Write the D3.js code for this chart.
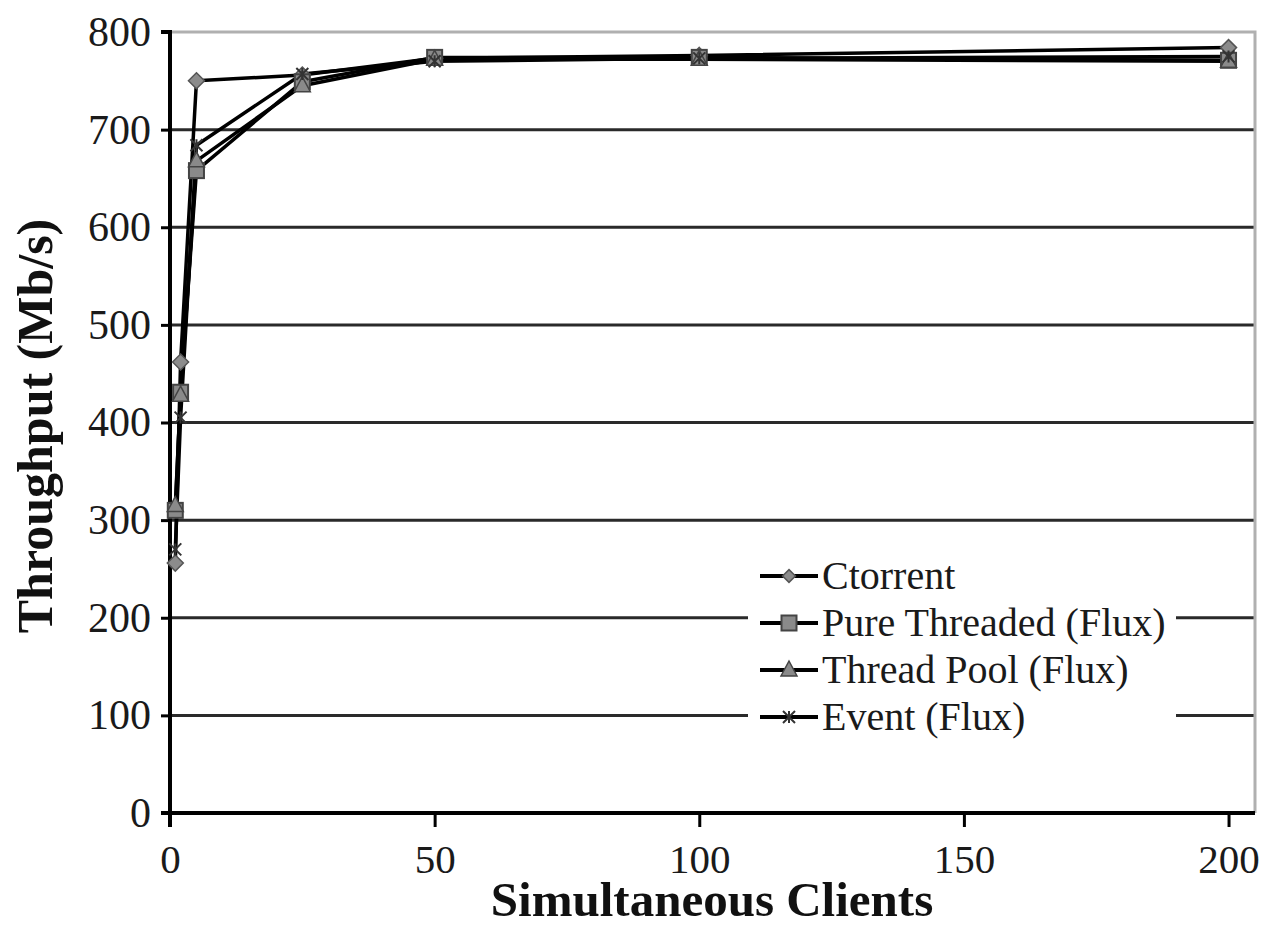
<!DOCTYPE html>
<html>
<head>
<meta charset="utf-8">
<script src="https://cdn.jsdelivr.net/npm/d3@7"></script>
<style>
  html, body { margin: 0; padding: 0; background: #fff; }
  svg { display: block; font-family: "Liberation Serif", "Times New Roman", serif; }
</style>
</head>
<body>
<svg id="chart" width="1264" height="927"></svg>
<script>
// Throughput vs. simultaneous clients
const clients = [1, 2, 5, 25, 50, 100, 200];
const ctorrent     = [256, 462, 750, 756, 773, 776, 784];
const pureThreaded = [310, 431, 658, 749, 774, 774, 771];
const threadPool   = [315, 428, 668, 745, 772, 772, 770];
const eventFlux    = [270, 405, 684, 757, 770, 773, 775];
const seriesNames = ['Ctorrent', 'Pure Threaded (Flux)', 'Thread Pool (Flux)', 'Event (Flux)'];
const seriesMarks = ['diamond', 'square', 'triangle', 'cross'];
const xTicks = [0, 50, 100, 150, 200];
const yTicks = [0, 100, 200, 300, 400, 500, 600, 700, 800];

const svg = d3.select('#chart');
const x = d3.scaleLinear().domain([0, 205]).range([170, 1255]);
const y = d3.scaleLinear().domain([0, 800]).range([813, 32]);

const series = [ctorrent, pureThreaded, threadPool, eventFlux].map((vals, i) => ({
  name: seriesNames[i], mark: seriesMarks[i],
  pts: clients.map((c, j) => ({ x: c, y: vals[j] }))
}));

// grid lines
svg.append('g').selectAll('line').data(yTicks.filter(t => t > 0 && t < 800)).join('line')
  .attr('x1', x(0)).attr('x2', x(205))
  .attr('y1', d => y(d)).attr('y2', d => y(d))
  .attr('stroke', '#2a2a2a').attr('stroke-width', 3);

// plot border (top / right), light grey
svg.append('path')
  .attr('d', `M${x(0)},${y(800)}H${x(205)}V${y(0)}`)
  .attr('fill', 'none').attr('stroke', '#b0b0b0').attr('stroke-width', 3);

// axes
const yAxis = d3.axisLeft(y).tickValues(yTicks).tickSize(9).tickPadding(10).tickFormat(d3.format('d'));
const gy = svg.append('g').attr('transform', `translate(${x(0)},0)`).call(yAxis);
const xAxis = d3.axisBottom(x).tickValues(xTicks).tickSize(14).tickPadding(17).tickFormat(d3.format('d'));
const gx = svg.append('g').attr('transform', `translate(0,${y(0)})`).call(xAxis);
[gx, gy].forEach(g => {
  g.select('.domain').attr('stroke', '#000').attr('stroke-width', 4);
  g.selectAll('.tick line').attr('stroke', '#000').attr('stroke-width', 3);
  g.selectAll('.tick text').attr('font-family', '"Liberation Serif", serif')
    .attr('font-size', 42).attr('fill', '#1a1a1a');
});
gx.selectAll('.tick text').attr('font-size', 41);
gy.select('.domain').attr('d', `M-9,${y(800)}H0V${y(0)}H-9`);
gx.select('.domain').attr('d', `M${x(0)},14V0H${x(205)}`);

// lines
const line = d3.line().x(d => x(d.x)).y(d => y(d.y));
svg.append('g').selectAll('path').data(series).join('path')
  .attr('d', d => line(d.pts))
  .attr('fill', 'none').attr('stroke', '#000').attr('stroke-width', 3.5)
  .attr('stroke-linejoin', 'round');

// markers
function drawMark(g, type, cx, cy, s) {
  if (type === 'diamond') {
    g.append('path').attr('d', `M${cx},${cy - s * 0.8}L${cx + s * 0.8},${cy}L${cx},${cy + s * 0.8}L${cx - s * 0.8},${cy}Z`)
      .attr('fill', '#8c8c8c').attr('stroke', '#555').attr('stroke-width', 1.5);
  } else if (type === 'square') {
    g.append('rect').attr('x', cx - s * 0.75).attr('y', cy - s * 0.75).attr('width', s * 1.5).attr('height', s * 1.5)
      .attr('fill', '#8a8a8a').attr('stroke', '#444').attr('stroke-width', 2);
  } else if (type === 'triangle') {
    g.append('path').attr('d', `M${cx},${cy - s * 0.9}L${cx + s * 0.8},${cy + s * 0.6}L${cx - s * 0.8},${cy + s * 0.6}Z`)
      .attr('fill', '#8a8a8a').attr('stroke', '#444').attr('stroke-width', 1.5);
  } else {
    const r = s * 0.6;
    g.append('path').attr('d', `M${cx - r},${cy - r}L${cx + r},${cy + r}M${cx - r},${cy + r}L${cx + r},${cy - r}M${cx},${cy - r}V${cy + r}`)
      .attr('stroke', '#333').attr('stroke-width', 2);
  }
}
const mg = svg.append('g');
series.forEach(s => s.pts.forEach(p => drawMark(mg, s.mark, x(p.x), y(p.y), 10)));

// legend
const lg = svg.append('g');
lg.append('rect').attr('x', 748).attr('y', 550).attr('width', 428).attr('height', 195).attr('fill', '#fff');
series.forEach((s, i) => {
  const ly = 576 + i * 47;
  lg.append('line').attr('x1', 760).attr('x2', 818).attr('y1', ly).attr('y2', ly)
    .attr('stroke', '#000').attr('stroke-width', 4);
  drawMark(lg, s.mark, 789, ly, s.mark === 'diamond' ? 8 : 10);
  lg.append('text').attr('x', 822).attr('y', ly + 13).attr('font-size', 40).attr('fill', '#1a1a1a').text(s.name);
});

// axis titles
svg.append('text').attr('x', 712).attr('y', 916).attr('text-anchor', 'middle')
  .attr('font-size', 49).attr('font-weight', 'bold').attr('fill', '#111').text('Simultaneous Clients');
svg.append('text').attr('transform', 'translate(52,426) rotate(-90)').attr('text-anchor', 'middle')
  .attr('font-size', 50).attr('font-weight', 'bold').attr('fill', '#111').text('Throughput (Mb/s)');
</script>
</body>
</html>
